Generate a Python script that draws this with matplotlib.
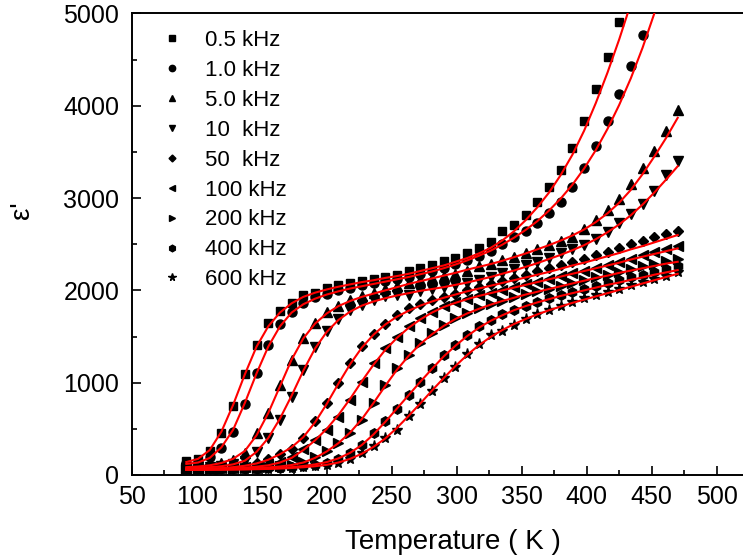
"""Dielectric permittivity vs temperature at several frequencies, with fit curves."""

from __future__ import annotations

import matplotlib

matplotlib.use("Agg")

import matplotlib.pyplot as plt
from matplotlib.axes import Axes
from matplotlib.ticker import MultipleLocator

plt.rcParams["font.family"] = ["Liberation Sans", "DejaVu Sans"]

# temperature grid (K), shared by all frequencies
temperature = [92, 101, 110, 119, 128, 137, 146, 155, 164, 173, 182, 191, 200,
               209, 218, 227, 236, 245, 254, 263, 272, 281, 290, 299, 308, 317,
               326, 335, 344, 353, 362, 371, 380, 389, 398, 407, 416, 425, 434,
               443, 452, 461, 470]

labels = ["0.5 kHz", "1.0 kHz", "5.0 kHz", "10  kHz", "50  kHz",
          "100 kHz", "200 kHz", "400 kHz", "600 kHz"]

# measured eps' (points above 5000 are off the chart and not listed)
eps_0k5 = [155, 175, 255, 460, 750, 1095, 1410, 1645, 1775, 1865, 1945, 1975,
           2025, 2060, 2085, 2105, 2125, 2145, 2170, 2205, 2245, 2280, 2315,
           2350, 2410, 2460, 2520, 2640, 2710, 2820, 2960, 3120, 3300, 3545,
           3830, 4180, 4530, 4910]
eps_1k0 = [125, 140, 195, 290, 470, 770, 1110, 1410, 1640, 1770, 1860, 1925,
           1965, 2000, 2030, 2055, 2080, 2100, 2125, 2150, 2180, 2210, 2245,
           2285, 2330, 2375, 2430, 2500, 2580, 2645, 2725, 2835, 2960, 3125,
           3330, 3565, 3830, 4125, 4430, 4765]
eps_5k0 = [90, 95, 105, 125, 165, 240, 450, 670, 970, 1250, 1480, 1650, 1765,
           1830, 1900, 1940, 1970, 2010, 2045, 2080, 2115, 2135, 2160, 2180,
           2215, 2260, 2285, 2325, 2365, 2410, 2450, 2495, 2535, 2580, 2665,
           2760, 2870, 2990, 3155, 3330, 3515, 3730, 3950]
eps_10k = [80, 85, 90, 100, 115, 150, 250, 400, 600, 840, 1140, 1385, 1560,
           1690, 1790, 1845, 1900, 1935, 1945, 1955, 1990, 2010, 2035, 2055,
           2080, 2115, 2150, 2190, 2230, 2270, 2310, 2350, 2400, 2450, 2490,
           2560, 2635, 2725, 2830, 2940, 3080, 3245, 3400]
eps_50k = [70, 72, 75, 80, 90, 105, 130, 170, 230, 280, 400, 580, 780, 1000,
           1210, 1400, 1530, 1640, 1735, 1805, 1850, 1900, 1930, 1960, 2005,
           2035, 2065, 2100, 2135, 2170, 2205, 2240, 2275, 2310, 2345, 2380,
           2420, 2460, 2500, 2540, 2580, 2615, 2645]
eps_100k = [65, 67, 70, 73, 78, 85, 95, 110, 140, 190, 285, 380, 490, 630,
            815, 1010, 1210, 1375, 1500, 1610, 1700, 1770, 1830, 1875, 1910,
            1945, 1975, 2005, 2035, 2065, 2095, 2125, 2155, 2185, 2215, 2245,
            2280, 2310, 2345, 2380, 2415, 2450, 2480]
eps_200k = [62, 63, 65, 67, 70, 73, 78, 85, 95, 110, 140, 190, 260, 345, 455,
            600, 780, 975, 1155, 1300, 1430, 1535, 1625, 1700, 1760, 1810,
            1850, 1890, 1925, 1960, 1990, 2020, 2050, 2080, 2110, 2140, 2170,
            2200, 2230, 2260, 2290, 2315, 2340]
eps_400k = [60, 61, 62, 63, 65, 67, 70, 74, 80, 88, 98, 110, 130, 170, 240,
            325, 450, 580, 720, 870, 1010, 1160, 1300, 1410, 1520, 1610, 1680,
            1740, 1790, 1835, 1875, 1915, 1950, 1985, 2020, 2050, 2080, 2110,
            2140, 2170, 2200, 2230, 2260]
eps_600k = [58, 59, 60, 61, 62, 64, 66, 69, 73, 79, 86, 95, 108, 130, 170,
            235, 310, 400, 490, 635, 770, 905, 1050, 1175, 1310, 1420, 1515,
            1560, 1630, 1695, 1745, 1790, 1835, 1875, 1915, 1950, 1985, 2020,
            2055, 2090, 2125, 2160, 2195]

# fitted curves (red lines)
fit_0k5 = [140, 175, 270, 470, 760, 1090, 1390, 1610, 1760, 1860, 1930, 1975,
           2010, 2040, 2065, 2090, 2110, 2135, 2155, 2180, 2210, 2240, 2270,
           2310, 2350, 2400, 2460, 2540, 2640, 2760, 2900, 3060, 3250, 3470,
           3730, 4030, 4360, 4720, 5110]
fit_1k0 = [120, 135, 185, 300, 490, 780, 1100, 1390, 1610, 1760, 1850, 1910,
           1955, 1990, 2020, 2045, 2070, 2095, 2120, 2145, 2175, 2205, 2240,
           2280, 2325, 2375, 2430, 2495, 2570, 2655, 2750, 2865, 2995, 3145,
           3320, 3520, 3750, 4010, 4300, 4630, 5000, 5400]
fit_5k0 = [85, 92, 105, 130, 175, 260, 430, 670, 960, 1250, 1480, 1640, 1750,
           1830, 1885, 1930, 1965, 2000, 2035, 2070, 2100, 2130, 2160, 2190,
           2225, 2255, 2285, 2320, 2360, 2400, 2445, 2490, 2540, 2595, 2660,
           2740, 2835, 2950, 3090, 3260, 3450, 3650, 3870]
fit_10k = [75, 80, 85, 95, 115, 155, 250, 400, 610, 860, 1130, 1370, 1550,
           1680, 1770, 1835, 1880, 1915, 1945, 1970, 1995, 2015, 2035, 2060,
           2085, 2115, 2145, 2180, 2215, 2255, 2295, 2340, 2385, 2435, 2490,
           2555, 2630, 2715, 2815, 2930, 3060, 3200, 3345]
fit_50k = [65, 67, 70, 75, 85, 100, 125, 165, 225, 300, 410, 570, 770, 990,
           1200, 1380, 1520, 1630, 1715, 1780, 1835, 1880, 1920, 1955, 1990,
           2020, 2050, 2080, 2110, 2140, 2170, 2200, 2235, 2270, 2300, 2335,
           2370, 2405, 2445, 2480, 2520, 2560, 2600]
fit_100k = [60, 62, 65, 68, 73, 80, 90, 105, 135, 185, 270, 375, 500, 650,
            825, 1015, 1195, 1355, 1485, 1595, 1685, 1760, 1820, 1865, 1905,
            1940, 1970, 2000, 2030, 2060, 2090, 2120, 2150, 2180, 2210, 2240,
            2270, 2300, 2335, 2365, 2395, 2425, 2455]
fit_200k = [58, 60, 62, 64, 67, 70, 75, 82, 92, 108, 135, 185, 255, 345, 460,
            605, 780, 965, 1140, 1290, 1420, 1525, 1615, 1690, 1750, 1800,
            1845, 1885, 1920, 1955, 1985, 2015, 2045, 2075, 2105, 2135, 2160,
            2190, 2215, 2240, 2265, 2290, 2310]
fit_400k = [56, 57, 58, 59, 61, 63, 66, 70, 76, 85, 97, 115, 140, 180, 240,
            325, 440, 575, 720, 865, 1010, 1150, 1285, 1400, 1505, 1595, 1670,
            1730, 1785, 1830, 1870, 1905, 1940, 1970, 2000, 2030, 2060, 2085,
            2115, 2140, 2170, 2195, 2220]
fit_600k = [55, 56, 57, 58, 59, 61, 63, 66, 70, 76, 84, 95, 110, 135, 175,
            230, 305, 395, 510, 640, 775, 915, 1050, 1180, 1300, 1405, 1495,
            1570, 1635, 1690, 1740, 1785, 1825, 1865, 1900, 1935, 1970, 2005,
            2040, 2075, 2110, 2145, 2180]

measured = [eps_0k5, eps_1k0, eps_5k0, eps_10k, eps_50k,
            eps_100k, eps_200k, eps_400k, eps_600k]
fits = [fit_0k5, fit_1k0, fit_5k0, fit_10k, fit_50k,
        fit_100k, fit_200k, fit_400k, fit_600k]

MARKERS = ["s", "o", "^", "v", "D", "<", ">", "h", "*"]
MARKER_SIZES = [5.8, 6.5, 6.8, 6.8, 5.0, 6.8, 6.8, 6.8, 8.0]


def style_axis(ax: Axes) -> None:
    """Origin-like frame: inward ticks, minor ticks, no right spine."""
    ax.set_xlim(50, 520)
    ax.set_ylim(0, 5000)
    ax.xaxis.set_major_locator(MultipleLocator(50))
    ax.xaxis.set_minor_locator(MultipleLocator(25))
    ax.yaxis.set_major_locator(MultipleLocator(1000))
    ax.yaxis.set_minor_locator(MultipleLocator(500))
    ax.tick_params(which="both", direction="in", width=1.2,
                   top=False, right=False, labelsize=18)
    ax.tick_params(which="major", length=6.5)
    ax.tick_params(which="minor", length=3.5)
    ax.tick_params(axis="x", which="major", pad=7)
    ax.tick_params(axis="y", which="major", pad=9)
    ax.spines["right"].set_visible(False)
    for side in ("left", "bottom", "top"):
        ax.spines[side].set_linewidth(1.4)

    ax.set_xlabel("Temperature ( K )", fontsize=20)
    ax.xaxis.set_label_coords(0.526, -0.118)
    ax.set_ylabel("ε'", fontsize=20, va="center")
    ax.yaxis.set_label_coords(-0.18, 0.574)


fig = plt.figure(figsize=(7.43, 5.6), dpi=100)
ax = fig.add_axes([0.1773, 0.1518, 0.8223, 0.8241])

for vals, fit, label, marker, ms in zip(measured, fits, labels,
                                        MARKERS, MARKER_SIZES):
    ax.plot(temperature[:len(vals)], vals, ls="none", marker=marker, ms=ms,
            color="black", label=label, zorder=2)
    ax.plot(temperature[:len(fit)], fit, color="red", lw=1.5, zorder=3)

style_axis(ax)

ax.legend(loc="upper left", bbox_to_anchor=(0.0475, 0.964), borderaxespad=0,
          borderpad=0, frameon=False, fontsize=16, markerscale=0.7,
          handlelength=1.0, handletextpad=1.0, labelspacing=0.40)

fig.savefig("out.png", dpi=100)
